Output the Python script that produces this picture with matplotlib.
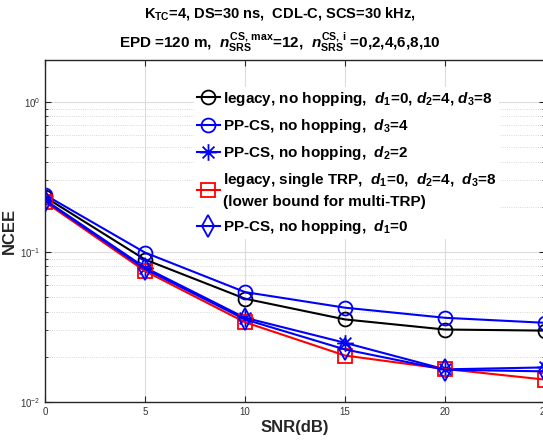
import matplotlib
matplotlib.use("Agg")
import matplotlib.pyplot as plt
from matplotlib.path import Path
from matplotlib.ticker import LogLocator, NullFormatter

plt.rcParams['font.family'] = ['Liberation Sans', 'DejaVu Sans']
plt.rcParams['mathtext.fontset'] = 'custom'
plt.rcParams['mathtext.rm'] = 'Liberation Sans:bold'
plt.rcParams['mathtext.it'] = 'Liberation Sans:italic:bold'
plt.rcParams['mathtext.bf'] = 'Liberation Sans:bold'

# data
snr = [0, 5, 10, 15, 20, 25]
legacy_nohop = [0.232, 0.089, 0.0488, 0.0355, 0.0304, 0.0299]
ppcs_d3 = [0.240, 0.099, 0.054, 0.0425, 0.0364, 0.0337]
ppcs_d2 = [0.222, 0.0787, 0.0364, 0.0248, 0.0165, 0.0170]
legacy_single = [0.215, 0.0746, 0.034, 0.0204, 0.0166, 0.0141]
ppcs_d1 = [0.220, 0.077, 0.0355, 0.0224, 0.0164, 0.0160]

labels = [
    r"legacy, no hopping,  $d_1$=0, $d_2$=4, $d_3$=8",
    r"PP-CS, no hopping,  $d_3$=4",
    r"PP-CS, no hopping,  $d_2$=2",
    "legacy, single TRP,  $d_1$=0,  $d_2$=4,  $d_3$=8\n(lower bound for multi-TRP)",
    r"PP-CS, no hopping,  $d_1$=0",
]

# matlab style asterisk: + and x overlaid
a = 0.707
star = Path([(-1, 0), (1, 0), (0, -1), (0, 1), (-a, -a), (a, a), (-a, a), (a, -a)],
            [Path.MOVETO, Path.LINETO] * 4)

fig = plt.figure(figsize=(5.43, 4.43), dpi=100)
ax = fig.add_axes([45 / 543, 1 - 402 / 443, 500 / 543, 342 / 443])

ms = 10
ax.plot(snr, legacy_nohop, color='black', lw=1.5, marker='o', ms=ms, mfc='none', mew=1.3, label=labels[0])
ax.plot(snr, ppcs_d3, color='#0000ff', lw=1.5, marker='o', ms=ms, mfc='none', mew=1.3, label=labels[1])
ax.plot(snr, ppcs_d2, color='#0000ff', lw=1.5, marker=star, ms=ms + 2, mfc='none', mew=1.3, label=labels[2])
ax.plot(snr, legacy_single, color='#ff0000', lw=1.5, marker='s', ms=ms, mfc='none', mew=1.3, label=labels[3])
ax.plot(snr, ppcs_d1, color='#0000ff', lw=1.5, marker='d', ms=ms + 1, mfc='none', mew=1.3, label=labels[4])

ax.set_yscale('log')
ax.set_xlim(0, 25)
ax.set_ylim(0.01, 1.9)
ax.set_xticks(snr)
ax.yaxis.set_major_locator(LogLocator(base=10, numticks=10))
ax.yaxis.set_minor_locator(LogLocator(base=10, subs=range(2, 10), numticks=10))
ax.yaxis.set_minor_formatter(NullFormatter())
ax.tick_params(which='both', direction='in', top=True, right=True, labelsize=7,
               labelcolor='#333333', color='#262626')
ax.tick_params(which='major', length=4)
ax.tick_params(which='minor', length=2)
ax.grid(True, which='major', color='#dcdcdc', lw=0.8)
ax.grid(True, which='minor', axis='y', color='#cccccc', lw=0.6, ls=':')
for s in ax.spines.values():
    s.set_color('#262626')
    s.set_linewidth(1.0)

ax.set_xlabel('SNR(dB)', fontsize=12, fontweight='bold', color='#262626', labelpad=2)
ax.set_ylabel('NCEE', fontsize=12, fontweight='bold', color='#262626', labelpad=2)

fig.text(280 / 543, 1 - 14 / 443, r"K$_{\mathrm{TC}}$=4, DS=30 ns,  CDL-C, SCS=30 kHz,",
         ha='center', va='center', fontsize=10.5, fontweight='bold')
fig.text(280 / 543, 1 - 42 / 443,
         r"EPD =120 m,  $n_{\mathrm{SRS}}^{\mathrm{CS,\,max}}$=12,  $n_{\mathrm{SRS}}^{\mathrm{CS,\,i}}$ =0,2,4,6,8,10",
         ha='center', va='center', fontsize=11, fontweight='bold')

leg = ax.legend(loc='upper left', bbox_to_anchor=(186 / 543, 1 - 79 / 443),
                bbox_transform=fig.transFigure, prop={'size': 11, 'weight': 'bold'},
                frameon=True, fancybox=False, edgecolor='none', facecolor='white',
                framealpha=1, handlelength=1.5, handletextpad=0.2, labelspacing=0.6,
                borderpad=0.2)
for t in leg.get_texts():
    t.set_linespacing(1.5)

fig.savefig('out.png', dpi=100)
